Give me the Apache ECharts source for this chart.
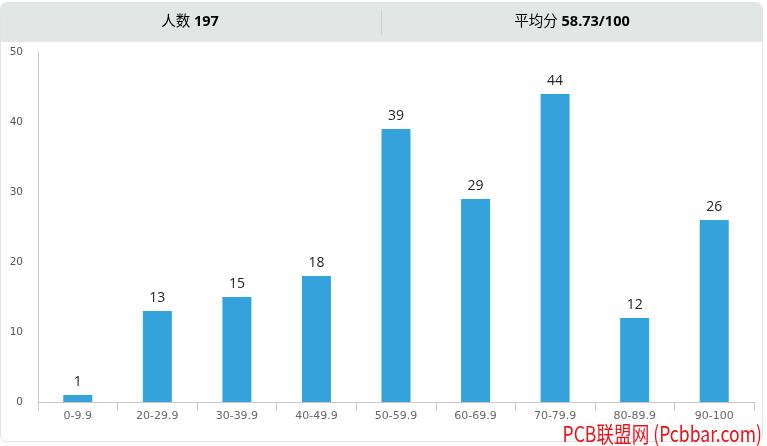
<!DOCTYPE html>
<html><head><meta charset="utf-8">
<script src="https://cdn.jsdelivr.net/npm/echarts@6/dist/echarts.min.js"></script>
<style>html,body{margin:0;padding:0;background:#fff}#c{width:767px;height:446px}</style>
</head><body><div id="c"></div>
<script>
const categories = ['0-9.9','20-29.9','30-39.9','40-49.9','50-59.9','60-69.9','70-79.9','80-89.9','90-100'];
const counts = [1,13,15,18,39,29,44,12,26];
const yTicks = [0,10,20,30,40,50];
const headerLeft = {label:'人数', value:'197'};
const headerRight = {label:'平均分', value:'58.73/100'};
const watermark = 'PCB联盟网 (Pcbbar.com)';

const chart = echarts.init(document.getElementById('c'));
const font = '"Open Sans","Noto Sans CJK SC",sans-serif';
const axisFont = '"DejaVu Sans",sans-serif';
chart.setOption({
  backgroundColor:'#fff',
  animation:false,
  grid:{left:38,right:13,top:52,bottom:44},
  xAxis:{type:'category',data:categories,
    axisLine:{lineStyle:{color:'#c8c8c8'}},
    axisTick:{show:true,length:9,lineStyle:{color:'#c8c8c8'}},
    axisLabel:{color:'#666',fontSize:11,margin:9,fontFamily:axisFont}},
  yAxis:{type:'value',min:yTicks[0],max:yTicks[yTicks.length-1],interval:10,
    axisLine:{show:true,lineStyle:{color:'#c8c8c8'}},
    axisTick:{show:false},splitLine:{show:false},
    axisLabel:{color:'#555',fontSize:10.5,margin:15,fontFamily:axisFont}},
  series:[{type:'bar',data:counts,barWidth:29,
    itemStyle:{color:'#35a3db'},
    label:{show:true,position:'top',color:'#222',fontSize:14,distance:6,fontFamily:font}}],
  graphic:[
    {type:'rect',z:-1,shape:{x:0.5,y:2.5,width:762,height:439,r:6},style:{fill:'#fff',stroke:'#e3e3e3',lineWidth:1}},
    {type:'rect',shape:{x:1,y:3,width:761,height:39,r:[6,6,0,0]},style:{fill:'#e2e6e5'}},
    {type:'line',shape:{x1:381.5,y1:11,x2:381.5,y2:35},style:{stroke:'#c9cdcc',lineWidth:1}},
    {type:'text',x:190,y:22,style:{text:'{a|'+headerLeft.label+' }{b|'+headerLeft.value+'}',align:'center',verticalAlign:'middle',
      rich:{a:{fontSize:14.5,color:'#333',fontFamily:font},b:{fontSize:14.5,fontWeight:'bold',color:'#333',fontFamily:font}}}},
    {type:'text',x:572,y:22,style:{text:'{a|'+headerRight.label+' }{b|'+headerRight.value+'}',align:'center',verticalAlign:'middle',
      rich:{a:{fontSize:14.5,color:'#333',fontFamily:font},b:{fontSize:14.5,fontWeight:'bold',color:'#333',fontFamily:font}}}},
    {type:'text',x:762,y:445,scaleX:0.8,z:10,style:{text:watermark,align:'right',verticalAlign:'bottom',fill:'#e8141c',fontSize:22,fontFamily:'"Noto Sans CJK SC",sans-serif'}}
  ]
});
</script></body></html>
